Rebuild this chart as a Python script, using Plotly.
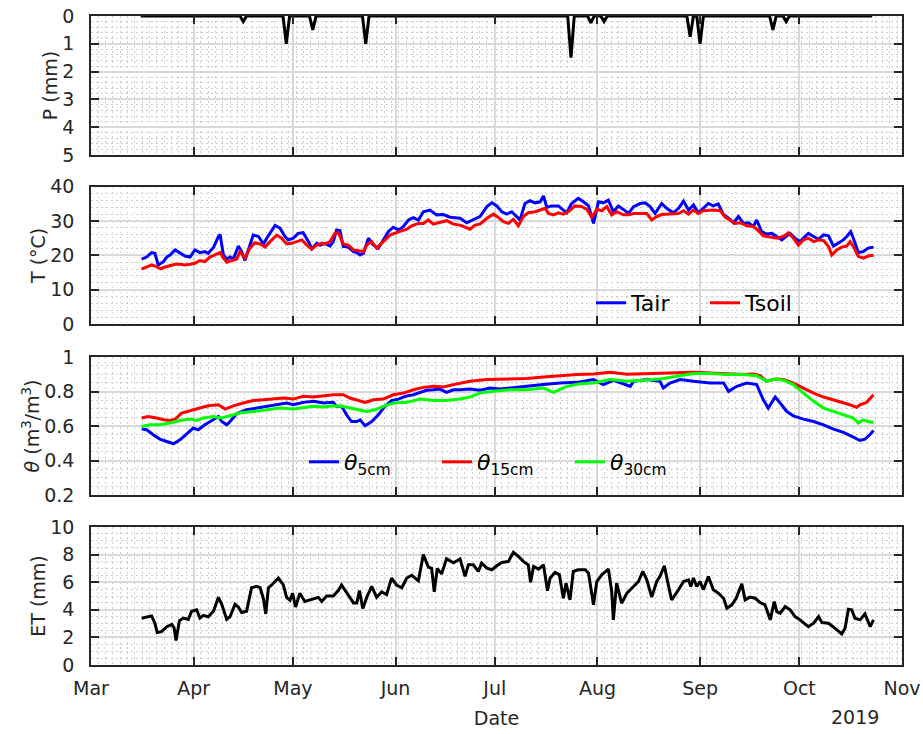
import pandas as pd
import plotly.graph_objects as go

BASE = pd.Timestamp("2019-03-01")


def to_dates(days):
    return BASE + pd.to_timedelta(days, unit="D")


# ---------------- data (day offsets counted from 2019-03-01) ----------------
# Precipitation (mm): dry baseline between first and last record day, plus rain events
p_first_day = 15
p_last_day = 236
p_event_days = [46, 59, 67, 83, 145, 151, 155, 181, 184, 206, 210]
p_event_mm = [0.2, 1.0, 0.5, 1.0, 1.5, 0.25, 0.2, 0.75, 1.0, 0.5, 0.2]

# Air temperature (deg C)
tair_days = [15.3, 16.8, 18.3, 19.3, 20.3, 21.9, 22.9, 23.9, 25.4, 26.9, 28.4, 29.9, 31.4, 32.9, 34.4,
             35.4, 37.0, 38.5, 39.0, 40.0, 41.0, 42.0, 43.0, 44.5, 45.5, 46.5, 47.5, 49.0, 50.6, 52.1,
             53.1, 54.6, 55.6, 57.1, 58.6, 59.6, 61.1, 62.6, 64.1, 65.7, 66.7, 68.2, 69.2, 70.7, 72.2,
             73.2, 74.2, 75.2, 76.2, 77.7, 79.3, 80.3, 81.3, 82.3, 83.8, 85.3, 86.8, 88.3, 89.8, 91.3,
             92.9, 94.4, 95.9, 97.4, 98.9, 100.4, 102.4, 104.4, 106.4, 108.5,
             111.5, 113.5, 115.5, 117.5, 119.6, 121.1, 122.6, 124.1, 125.6, 127.1, 128.6, 129.6, 131.1,
             132.6, 134.2, 135.7, 136.7, 137.7, 139.2, 141.2, 142.7, 143.7, 145.2, 147.2, 148.8, 150.3,
             151.8, 153.3, 154.8, 156.3, 157.8, 159.3, 160.8, 162.4, 163.9, 165.9, 167.4, 168.9, 170.4,
             172.4, 173.9, 175.9, 177.5, 179.0, 180.5, 182.0, 183.5, 185.0, 186.5, 188.0, 189.5, 191.1,
             192.6, 194.1, 195.6, 197.1, 198.6, 200.1, 201.1, 202.6, 204.1, 205.7, 207.2, 208.7, 210.2,
             211.2, 212.7, 214.2, 215.7, 216.7, 218.3, 219.8, 221.3, 222.8, 224.3, 225.8, 227.3, 228.3,
             229.5, 230.3, 231.8, 233.3, 234.8, 236.4]
tair_vals = [18.9, 19.5, 20.8, 20.6, 17.2, 18.2, 19.5, 20.1, 21.6, 20.8, 19.8, 19.5, 21.6, 20.8, 21.1,
             20.6, 22.3, 25.5, 26.1, 20.1, 18.9, 19.5, 18.9, 22.7, 21.1, 18.5, 21.6, 25.9, 25.5, 23.3,
             25.0, 27.4, 28.7, 27.9, 25.5, 24.5, 25.0, 26.4, 26.6, 24.0, 21.9, 23.5, 23.0, 23.5, 22.7,
             24.0, 27.4, 27.2, 22.6, 22.4, 21.1, 20.8, 20.1, 20.6, 25.0, 23.0, 22.1, 24.5, 26.9, 28.2,
             27.4, 28.4, 30.3, 31.0, 30.3, 32.7, 33.2, 31.8, 31.9, 31.1,
             30.8, 29.5, 30.3, 31.3, 34.2, 35.3, 34.4, 32.7, 32.0, 32.7, 31.3, 30.3, 35.1,
             35.9, 35.3, 35.6, 37.3, 34.0, 34.4, 34.4, 33.2, 32.4, 35.1, 36.6, 35.6, 34.4,
             29.3, 35.6, 35.3, 36.1, 32.7, 34.4, 33.4, 32.2, 34.2, 35.1, 35.3, 34.2, 32.2,
             35.1, 33.7, 32.4, 33.7, 35.8, 33.2, 34.7, 32.4, 33.7, 35.1, 34.4, 35.0, 31.8,
             30.8, 29.5, 31.3, 29.3, 29.5, 28.4, 30.3, 26.9, 26.2, 26.4, 25.5, 24.5, 25.7,
             26.4, 25.0, 24.0, 25.5, 26.4, 25.5, 24.7, 26.0, 25.7, 22.7, 23.5, 24.5, 25.5,
             26.9, 25.0, 20.8, 21.1, 22.1, 22.4]

# Soil temperature (deg C)
tsoil_days = [15.3, 16.8, 18.3, 19.8, 21.0, 22.4, 23.9, 25.4, 26.9, 28.4, 29.9, 31.4, 32.9, 34.4, 35.9,
              37.5, 39.0, 40.0, 41.0, 42.5, 44.0, 45.0, 46.5, 48.0, 49.5, 51.1, 52.6, 54.1, 56.1, 57.6,
              59.1, 60.6, 62.1, 63.7, 65.2, 66.7, 68.2, 69.7, 70.7, 72.2, 73.7, 74.7, 76.2, 77.7, 79.3,
              80.8, 82.3, 83.3, 84.8, 86.3, 88.3, 90.3, 92.3, 93.9, 95.4, 96.9, 98.9, 100.4, 101.9, 103.4,
              105.4, 107.4, 109.5,
              111.5, 113.0, 114.5, 116.0, 117.5, 119.6, 121.6, 123.1, 124.6, 126.1, 127.6, 129.1, 130.6,
              132.1, 134.2, 135.7, 137.2, 138.2, 139.7, 141.2, 142.7, 144.2, 146.2, 148.3, 149.8, 151.3,
              152.8, 154.3, 155.8, 157.3, 158.8, 160.8, 162.4, 163.9, 166.4, 167.9, 169.4, 170.9, 172.4,
              173.9, 175.9, 177.5, 179.0, 180.5, 182.0, 183.5, 185.0, 188.0, 190.1, 191.6, 193.1, 194.6,
              196.1, 198.1, 200.1, 201.6, 203.1, 205.2, 207.2, 209.2, 210.7, 212.2, 213.7, 215.2, 216.7,
              218.3, 219.8, 221.3, 222.8, 223.8, 225.3, 226.8, 228.3, 229.3, 230.3, 231.8, 233.3, 234.8,
              236.4]
tsoil_vals = [16.0, 16.7, 17.2, 16.7, 16.1, 16.6, 17.0, 17.4, 17.4, 17.2, 17.4, 17.7, 18.5, 18.2, 19.5,
              20.1, 20.8, 19.2, 18.0, 18.5, 18.9, 21.1, 19.2, 22.1, 23.7, 23.3, 22.4, 24.0, 25.9, 25.0,
              23.3, 23.5, 24.0, 24.5, 23.0, 21.8, 23.0, 23.5, 23.3, 24.0, 26.4, 26.6, 23.3, 23.0, 21.6,
              21.3, 21.1, 23.0, 24.0, 22.1, 24.0, 25.9, 26.6, 27.2, 27.6, 28.6, 29.3, 29.3, 30.3, 29.1,
              29.5, 30.1, 29.1,
              28.8, 28.2, 27.6, 28.8, 29.1, 30.8, 32.0, 31.0, 29.8, 29.3, 30.5, 28.6, 31.3,
              32.4, 32.7, 33.2, 33.7, 32.2, 31.8, 32.4, 32.0, 32.7, 34.4, 34.2, 33.4, 31.1,
              33.4, 33.0, 34.2, 31.8, 32.7, 31.8, 31.8, 32.2, 32.2, 32.2, 30.3, 31.3, 31.9,
              32.0, 32.0, 32.2, 33.0, 32.0, 33.2, 32.2, 33.0, 33.2, 33.0, 31.1, 30.3, 29.3,
              29.5, 28.6, 28.4, 27.2, 25.7, 25.3, 25.0, 25.5, 26.6, 25.0, 23.0, 24.5, 25.0,
              24.0, 24.5, 24.3, 22.6, 20.1, 21.6, 22.4, 22.7, 24.0, 22.6, 19.7, 19.2, 19.8,
              20.0]

# Soil moisture at 5 cm (m3/m3)
th5_days = [15.3, 16.8, 18.8, 20.8, 22.9, 24.9, 26.9, 28.9, 30.9, 32.4, 34.4, 36.4, 38.5, 39.5, 41.0,
            42.5, 44.0, 47.0, 50.1, 53.1, 56.1, 59.1, 61.1, 64.1, 67.2, 70.2, 73.2, 74.2, 75.7, 77.2,
            78.7, 80.3, 81.3, 82.8, 84.8, 86.8, 88.8, 90.8, 92.9, 94.9, 97.4, 99.4, 101.4, 103.4, 105.4,
            107.4, 109.5,
            111.5, 114.5, 117.5, 120.6, 123.6, 127.6, 131.6, 136.7, 141.7, 146.7, 151.8, 154.8, 157.8,
            160.8, 162.9, 163.9, 167.9, 171.9, 172.9, 174.9, 178.0, 182.0, 187.0, 191.1, 192.6, 195.1,
            198.1, 201.1, 203.1, 204.6, 206.7, 208.2, 210.2, 212.2, 215.2, 218.3, 221.3, 224.3, 227.3,
            230.3, 232.3, 233.8, 235.3, 236.4]
th5_vals = [0.582, 0.578, 0.549, 0.524, 0.510, 0.497, 0.520, 0.555, 0.588, 0.578, 0.607, 0.630, 0.655,
            0.626, 0.607, 0.636, 0.671, 0.694, 0.704, 0.714, 0.723, 0.733, 0.723, 0.737, 0.743, 0.733,
            0.737, 0.714, 0.714, 0.665, 0.626, 0.626, 0.636, 0.601, 0.626, 0.665, 0.714, 0.747, 0.756,
            0.772, 0.781, 0.795, 0.807, 0.810, 0.814, 0.795, 0.810,
            0.810, 0.814, 0.807, 0.820, 0.814, 0.820, 0.830, 0.840, 0.849, 0.853, 0.869, 0.840, 0.865,
            0.845, 0.830, 0.859, 0.869, 0.859, 0.820, 0.849, 0.869, 0.859, 0.849, 0.849, 0.801, 0.830,
            0.849, 0.840, 0.752, 0.704, 0.768, 0.733, 0.684, 0.659, 0.640, 0.626, 0.607, 0.582, 0.563,
            0.535, 0.516, 0.524, 0.549, 0.574]

# Soil moisture at 15 cm (m3/m3)
th15_days = [15.3, 17.3, 19.8, 21.9, 23.9, 25.4, 27.4, 29.9, 32.9, 35.4, 38.5, 40.5, 43.0, 46.0, 49.0,
             52.1, 55.1, 58.1, 61.1, 64.1, 67.2, 70.2, 73.2, 76.2, 78.2, 80.8, 82.8, 85.3, 88.3, 91.3,
             94.4, 97.4, 100.4, 103.4, 106.4, 109.5,
             111.5, 114.5, 119.6, 126.6, 131.6, 136.7, 141.7, 146.7, 151.8, 156.8, 161.9, 166.9, 171.9,
             177.0, 182.0, 187.0, 192.1, 197.1, 200.1, 202.1, 204.1, 206.7, 209.2, 212.2, 215.2, 218.3,
             221.3, 224.3, 227.3, 229.3, 231.3, 232.3, 234.3, 236.4]
th15_vals = [0.646, 0.655, 0.646, 0.636, 0.632, 0.640, 0.675, 0.690, 0.704, 0.717, 0.723, 0.698, 0.717,
             0.733, 0.748, 0.752, 0.756, 0.762, 0.756, 0.772, 0.768, 0.776, 0.781, 0.781, 0.762, 0.748,
             0.737, 0.752, 0.756, 0.781, 0.791, 0.810, 0.824, 0.830, 0.826, 0.840,
             0.849, 0.859, 0.869, 0.872, 0.876, 0.884, 0.892, 0.898, 0.902, 0.911, 0.900, 0.902, 0.907,
             0.907, 0.911, 0.907, 0.904, 0.898, 0.902, 0.892, 0.859, 0.872, 0.869, 0.849, 0.820, 0.791,
             0.768, 0.752, 0.733, 0.723, 0.708, 0.723, 0.737, 0.781]

# Soil moisture at 30 cm (m3/m3)
th30_days = [15.3, 17.8, 20.8, 23.9, 26.9, 29.9, 31.9, 33.9, 37.0, 39.5, 42.0, 45.0, 49.0, 53.1, 57.1,
             61.1, 64.1, 67.2, 70.2, 73.2, 75.7, 78.2, 80.8, 83.3, 85.8, 88.3, 91.3, 95.4, 99.4, 103.4,
             107.4,
             111.5, 114.5, 117.5, 121.6, 126.6, 131.6, 136.7, 139.7, 143.7, 147.8, 151.8, 156.8, 161.9,
             166.9, 171.9, 177.0, 182.0, 187.0, 192.1, 197.1, 201.1, 204.1, 206.7, 209.2, 212.2, 215.2,
             218.3, 221.3, 224.3, 227.3, 230.3, 231.8, 233.3, 234.8, 236.4]
th30_vals = [0.597, 0.607, 0.607, 0.617, 0.632, 0.640, 0.632, 0.646, 0.655, 0.646, 0.659, 0.675, 0.684,
             0.694, 0.704, 0.698, 0.704, 0.714, 0.710, 0.717, 0.714, 0.704, 0.690, 0.684, 0.694, 0.714,
             0.733, 0.737, 0.756, 0.748, 0.748,
             0.756, 0.768, 0.791, 0.801, 0.810, 0.810, 0.820, 0.795, 0.830, 0.845, 0.849, 0.869, 0.859,
             0.865, 0.872, 0.888, 0.904, 0.904, 0.898, 0.898, 0.892, 0.859, 0.872, 0.865, 0.840, 0.791,
             0.743, 0.704, 0.684, 0.665, 0.646, 0.617, 0.636, 0.626, 0.620]

# Evapotranspiration (mm)
et_days = [15.3, 16.8, 18.3, 19.3, 20.0, 21.3, 22.9, 24.4, 25.1, 25.7, 26.7, 27.9, 29.4, 30.4, 31.9,
           32.9, 33.9, 35.4, 37.0, 38.5, 39.5, 41.0, 42.0, 43.5, 44.5, 45.5, 47.0, 48.5, 50.0, 51.1,
           52.1, 52.8, 53.6, 54.6, 56.6, 58.1, 59.1, 60.1, 60.9, 61.8, 63.1, 64.6, 66.2, 68.7, 69.7,
           71.2, 73.2, 74.7, 75.7, 77.7, 79.3, 80.3, 81.1, 82.1, 83.3, 84.8, 86.3, 87.8, 89.3, 90.8,
           92.3, 93.9, 95.4, 96.9, 98.9, 100.4, 101.9, 102.9, 103.7, 104.6, 105.9, 107.4, 109.5,
           111.5, 113.0, 114.0, 115.5, 117.0, 118.0, 119.6, 121.1, 122.6, 124.1, 126.1, 127.6, 129.1,
           130.6, 132.1, 132.8, 133.7, 135.2, 136.7, 137.9, 138.7, 140.2, 141.5, 142.7, 143.5, 144.7,
           145.7, 147.2, 149.3, 150.3, 151.8, 152.8, 154.3, 156.3, 157.3, 157.8, 158.8, 160.3, 161.9,
           163.9, 165.4, 166.7, 167.9, 169.4, 170.9, 171.9, 173.2, 174.4, 175.4, 177.5, 179.0, 180.5,
           181.2, 182.0, 183.0, 184.0, 185.0, 186.5, 188.0, 189.5, 191.1, 192.1, 193.6, 194.9, 196.6,
           197.6, 199.1, 200.6, 202.1, 203.6, 205.2, 206.4, 207.2, 208.2, 209.7, 211.2, 212.7, 214.2,
           216.7, 218.3, 219.8, 220.8, 222.8, 224.8, 226.8, 227.8, 228.8, 229.8, 230.8, 232.3, 233.8,
           235.4, 236.4]
et_vals = [3.39, 3.46, 3.56, 3.03, 2.35, 2.42, 2.78, 2.95, 2.70, 1.77, 3.20, 3.40, 3.30, 3.90, 4.00,
           3.40, 3.60, 3.50, 3.90, 4.90, 4.40, 3.30, 3.50, 4.40, 4.20, 3.80, 3.90, 5.60, 5.70, 5.60,
           4.80, 3.70, 5.60, 5.80, 6.30, 5.80, 4.90, 4.70, 5.20, 4.20, 5.20, 4.60, 4.70, 4.90, 4.60,
           5.00, 5.00, 5.40, 5.80, 5.10, 4.50, 4.50, 5.40, 4.10, 4.90, 5.70, 4.90, 5.30, 5.10, 6.30,
           5.80, 5.60, 6.30, 6.50, 6.10, 8.00, 7.10, 7.00, 5.30, 7.00, 6.60, 7.70, 7.40,
           7.68, 6.42, 7.26, 7.26, 6.78, 7.38, 7.02, 6.90, 7.19, 7.43, 7.51, 8.16, 7.87,
           7.51, 7.26, 6.00, 7.14, 6.95, 7.26, 5.38, 6.30, 6.71, 6.54, 4.84, 5.93, 4.72,
           6.78, 6.90, 6.90, 6.66, 4.36, 6.05, 6.54, 6.95, 5.33, 3.27, 5.93, 4.48, 5.21,
           5.69, 6.05, 6.78, 6.17, 4.92, 6.05, 6.42, 7.19, 5.81, 4.72, 5.45, 6.05, 6.17,
           5.69, 6.30, 5.69, 6.05, 5.45, 6.42, 5.45, 5.21, 4.84, 4.12, 4.36, 4.84, 5.88,
           4.72, 4.92, 4.84, 4.53, 4.36, 3.27, 4.60, 3.87, 3.75, 4.24, 4.00, 3.51, 3.27,
           2.78, 3.03, 3.51, 3.08, 3.03, 2.66, 2.25, 2.66, 4.04, 4.00, 3.39, 3.27, 3.70,
           2.78, 3.27]

# Axis settings
x_start, x_end = "2019-03-01", "2019-11-01"
p_range = [5, 0]
t_range = [0, 40]
th_range = [0.2, 1]
et_range = [0, 10]

# ---------------- build P series (zero baseline with rain events) ----------------
p_days = [p_first_day]
p_vals = [0.0]
for d, v in zip(p_event_days, p_event_mm):
    p_days += [d - 1, d, d + 1]
    p_vals += [0.0, v, 0.0]
p_days.append(p_last_day)
p_vals.append(0.0)

# ---------------- figure ----------------
FONT = "DejaVu Sans, Liberation Sans, Arial, sans-serif"
FS = 19
LFS = 22
TXT = "#262626"
W, H = 923, 734
LW = 3

fig = go.Figure()
fig.add_trace(go.Scatter(x=to_dates(p_days), y=p_vals, mode="lines", line=dict(color="black", width=LW),
                         xaxis="x", yaxis="y", showlegend=False, name="P"))
fig.add_trace(go.Scatter(x=to_dates(tair_days), y=tair_vals, mode="lines", line=dict(color="#0000ff", width=LW),
                         xaxis="x2", yaxis="y2", name="Tair", legend="legend"))
fig.add_trace(go.Scatter(x=to_dates(tsoil_days), y=tsoil_vals, mode="lines", line=dict(color="#ff0000", width=LW),
                         xaxis="x2", yaxis="y2", name="Tsoil", legend="legend"))
fig.add_trace(go.Scatter(x=to_dates(th5_days), y=th5_vals, mode="lines", line=dict(color="#0000ff", width=LW),
                         xaxis="x3", yaxis="y3", name="<i>θ</i><sub>5cm</sub>", legend="legend2"))
fig.add_trace(go.Scatter(x=to_dates(th15_days), y=th15_vals, mode="lines", line=dict(color="#ff0000", width=LW),
                         xaxis="x3", yaxis="y3", name="<i>θ</i><sub>15cm</sub>", legend="legend2"))
fig.add_trace(go.Scatter(x=to_dates(th30_days), y=th30_vals, mode="lines", line=dict(color="#00ff00", width=LW),
                         xaxis="x3", yaxis="y3", name="<i>θ</i><sub>30cm</sub>", legend="legend2"))
fig.add_trace(go.Scatter(x=to_dates(et_days), y=et_vals, mode="lines", line=dict(color="black", width=LW),
                         xaxis="x4", yaxis="y4", showlegend=False, name="ET"))

x_dom = [91 / W, 902 / W]
doms = [(16, 155), (186.7, 324), (357, 495), (527, 665)]
ydoms = [[1 - b / H, 1 - t / H] for t, b in doms]

major_grid = "#d9d9d9"
minor_grid = "#cdcdcd"
MINOR_DASH = "1.5px,3.5px"
DAY_MS = 86400000


def xaxis_cfg(show_labels, anchor):
    return dict(
        domain=x_dom, anchor=anchor, type="date", range=[x_start, x_end],
        tick0=x_start, dtick="M1", tickformat="%b", showticklabels=show_labels,
        ticks="inside", ticklen=8, tickwidth=1.8, tickcolor=TXT,
        showline=True, linecolor=TXT, linewidth=1.6, mirror="ticks",
        showgrid=True, gridcolor=major_grid, gridwidth=1.5,
        minor=dict(tick0=x_start, dtick=2.214 * DAY_MS, showgrid=True, gridcolor=minor_grid,
                   griddash=MINOR_DASH, gridwidth=1, ticks=""),
        tickfont=dict(family=FONT, size=FS, color=TXT), zeroline=False,
        ticklabelstandoff=5, automargin=False,
    )


def yaxis_cfg(dom, rng, dtick, minor_dtick, title, anchor, standoff):
    return dict(
        domain=dom, anchor=anchor, range=rng, dtick=dtick, tick0=0,
        ticks="inside", ticklen=8, tickwidth=1.8, tickcolor=TXT,
        showline=True, linecolor=TXT, linewidth=1.6, mirror="ticks",
        showgrid=True, gridcolor=major_grid, gridwidth=1.5,
        minor=dict(dtick=minor_dtick, tick0=0, showgrid=True, gridcolor=minor_grid,
                   griddash=MINOR_DASH, gridwidth=1, ticks=""),
        tickfont=dict(family=FONT, size=FS, color=TXT), zeroline=False,
        title=dict(text=title, font=dict(family=FONT, size=FS, color=TXT), standoff=standoff),
        ticklabelstandoff=11, automargin=False,
    )


legend_font = dict(family=FONT, size=LFS, color="black")

fig.update_layout(
    width=W, height=H, margin=dict(l=0, r=0, t=0, b=0, autoexpand=False),
    paper_bgcolor="white", plot_bgcolor="white",
    font=dict(family=FONT, size=FS, color=TXT),
    xaxis=xaxis_cfg(False, "y"),
    xaxis2=xaxis_cfg(False, "y2"),
    xaxis3=xaxis_cfg(False, "y3"),
    xaxis4=dict(xaxis_cfg(True, "y4"),
                title=dict(text="Date", font=dict(family=FONT, size=FS, color=TXT), standoff=14)),
    yaxis=yaxis_cfg(ydoms[0], p_range, 1, 0.2, "P (mm)", "x", 0),
    yaxis2=yaxis_cfg(ydoms[1], t_range, 10, 2, "T (°C)", "x2", 0),
    yaxis3=yaxis_cfg(ydoms[2], th_range, 0.2, 0.05, "<i>θ</i> (m<sup>3</sup>/m<sup>3</sup>)", "x3", 0),
    yaxis4=yaxis_cfg(ydoms[3], et_range, 2, 0.5, "ET (mm)", "x4", 0),
    legend=dict(orientation="h", x=591 / W, y=1 - 303 / H, xanchor="left", yanchor="middle",
                bgcolor="rgba(0,0,0,0)", font=legend_font, itemwidth=30,
                entrywidth=69, entrywidthmode="pixels"),
    legend2=dict(orientation="h", x=304 / W, y=1 - 462 / H, xanchor="left", yanchor="middle",
                 bgcolor="rgba(0,0,0,0)", font=legend_font, itemwidth=30,
                 entrywidth=88, entrywidthmode="pixels"),
    annotations=[dict(text="2019", x=881 / W, y=1 - 717 / H, xref="paper", yref="paper",
                      xanchor="right", yanchor="middle", showarrow=False,
                      font=dict(family=FONT, size=FS, color=TXT))],
)

fig.write_html("out.html")
